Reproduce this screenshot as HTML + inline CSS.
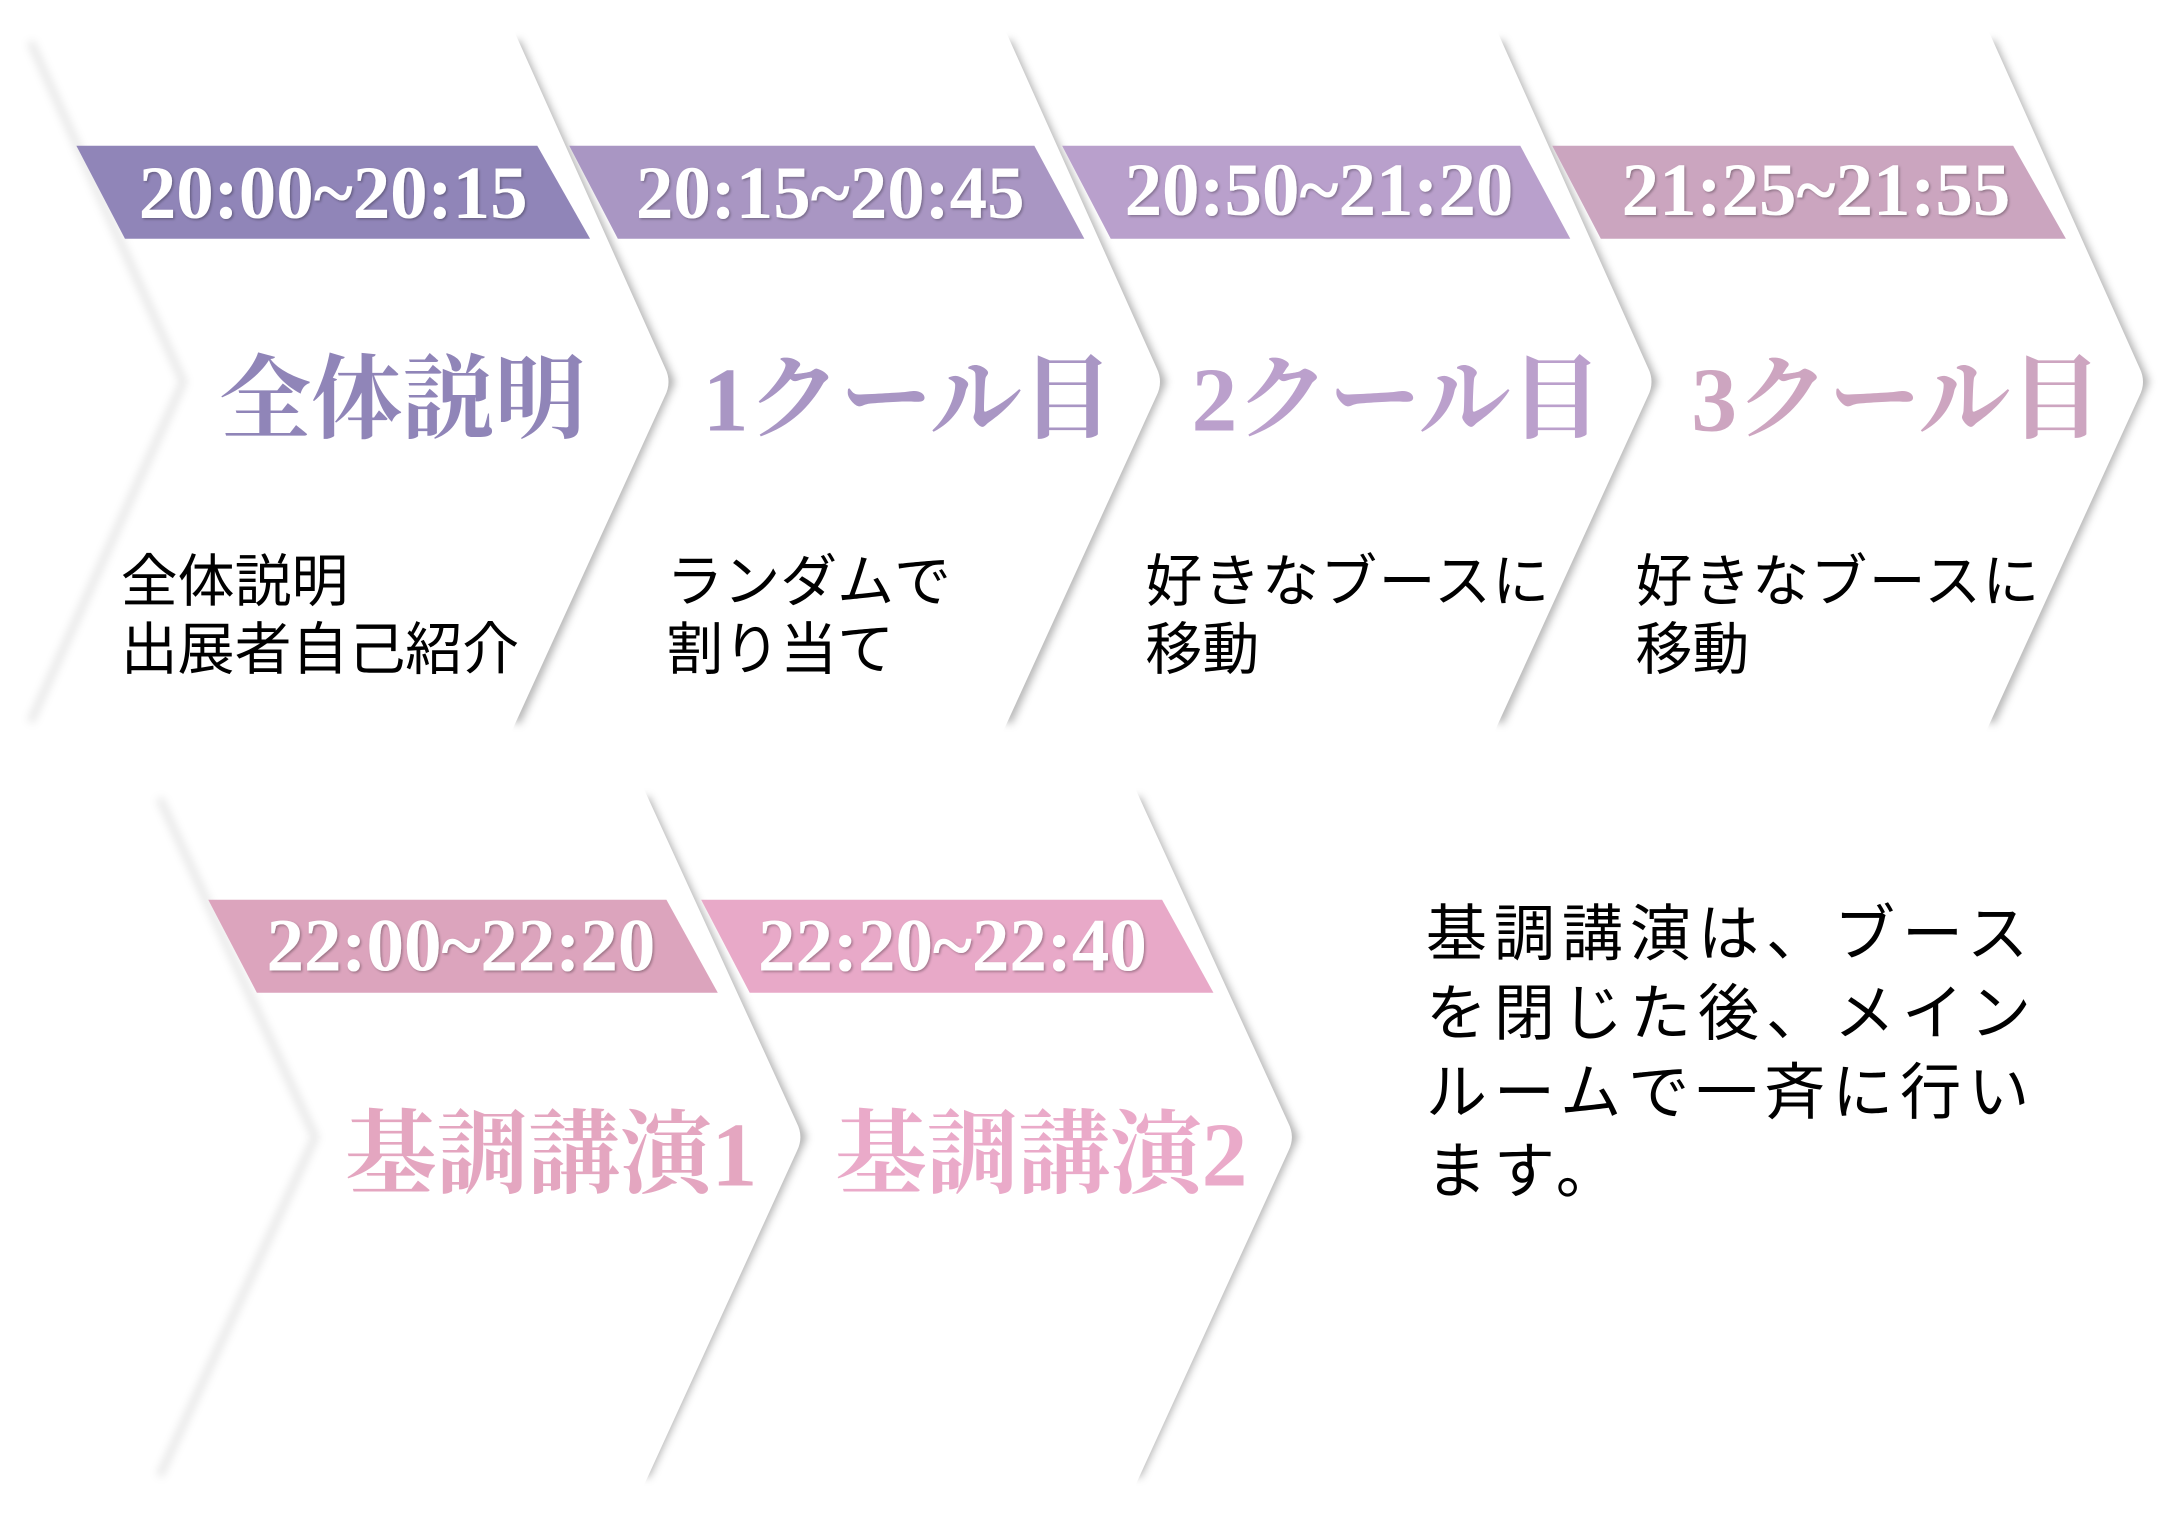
<!DOCTYPE html>
<html lang="ja"><head><meta charset="utf-8"><style>
html,body{margin:0;padding:0;background:#fff;}
svg{display:block;}
.t{font-family:"Liberation Serif","Noto Serif CJK JP",serif;font-weight:bold;}
.tm{font-family:"Liberation Serif","Noto Serif CJK JP",serif;fill:#fff;font-size:54px;font-weight:bold;text-anchor:middle;}
.b{font-family:"Liberation Sans","Noto Sans CJK JP",sans-serif;font-size:41px;fill:#000;}
.r{font-family:"Liberation Sans","Noto Sans CJK JP",sans-serif;font-size:44px;fill:#000;letter-spacing:5px;}
.s{fill:none;stroke:#000;stroke-opacity:0.33;stroke-width:7;filter:url(#bl);}
.s2{fill:none;stroke:#000;stroke-opacity:0.1;stroke-width:5;filter:url(#bl);}
</style></head><body>
<svg width="2177" height="1537" viewBox="0 0 1568 1107" preserveAspectRatio="none" xmlns="http://www.w3.org/2000/svg">
<defs>
<filter id="bl" x="-20%" y="-5%" width="140%" height="110%"><feGaussianBlur stdDeviation="3"/></filter>
<filter id="ts"><feDropShadow dx="1" dy="1" stdDeviation="1" flood-color="#000" flood-opacity="0.3"/></filter>
</defs>
<g fill="#fff">
<path class="s" d="M1433,30 L1544,275 L1433,520"/>
<path d="M1077,15 L1429,15 L1541,265 Q1546,275 1541,285 L1429,530 L1077,530 L1189,285 Q1194,275 1189,265 Z"/>
<path class="s" d="M1079,30 L1190,275 L1079,520"/>
<path d="M723,15 L1075,15 L1187,265 Q1192,275 1187,285 L1075,530 L723,530 L835,285 Q840,275 835,265 Z"/>
<path class="s" d="M725,30 L836,275 L725,520"/>
<path d="M369,15 L721,15 L833,265 Q838,275 833,285 L721,530 L369,530 L481,285 Q486,275 481,265 Z"/>
<path class="s" d="M371,30 L482,275 L371,520"/>
<path d="M15,15 L367,15 L479,265 Q484,275 479,285 L367,530 L15,530 L127,285 Q132,275 127,265 Z"/>
<path class="s2" d="M22,30 L132,275 L22,520"/>
<path class="s" d="M818,575 L931,819 L818,1063"/>
<path d="M462,560 L814,560 L928,809 Q933,819 928,829 L814,1078 L462,1078 L576,829 Q581,819 576,809 Z"/>
<path class="s" d="M464,575 L577,819 L464,1063"/>
<path d="M108,560 L460,560 L574,809 Q579,819 574,829 L460,1078 L108,1078 L222,829 Q227,819 222,809 Z"/>
<path class="s2" d="M115,575 L227,819 L115,1063"/>
</g>
<polygon points="55,105 387,105 425,172 90,172" fill="#9085b8"/>
<polygon points="410,105 745,105 781,172 445,172" fill="#a996c3"/>
<polygon points="765,105 1095,105 1131,172 800,172" fill="#b9a0cc"/>
<polygon points="1118,105 1450,105 1488,172 1153,172" fill="#cba5bf"/>
<polygon points="150,648 480,648 517,715 185,715" fill="#dca4bd"/>
<polygon points="505,648 837,648 874,715 540,715" fill="#e8a9c8"/>
<g filter="url(#ts)">
<text class="tm" x="240" y="157">20:00~20:15</text>
<text class="tm" x="598" y="157">20:15~20:45</text>
<text class="tm" x="950" y="155">20:50~21:20</text>
<text class="tm" x="1308" y="155">21:25~21:55</text>
<text class="tm" x="332" y="699">22:00~22:20</text>
<text class="tm" x="686" y="699">22:20~22:40</text>
</g>
<text class="t" x="290" y="310" font-size="66" text-anchor="middle" fill="#9085b8">全体説明</text>
<text class="t" x="654" y="310" font-size="66" text-anchor="middle" fill="#a996c4">1クール目</text>
<text class="t" x="1006" y="310" font-size="66" text-anchor="middle" fill="#bba0cc">2クール目</text>
<text class="t" x="1366" y="310" font-size="66" text-anchor="middle" fill="#cda5c0">3クール目</text>
<text class="t" x="397" y="854" font-size="66" text-anchor="middle" fill="#e4a6c0">基調講演1</text>
<text class="t" x="750" y="854" font-size="66" text-anchor="middle" fill="#eaaac9">基調講演2</text>
<text class="b" x="87" y="433">全体説明</text>
<text class="b" x="87" y="482">出展者自己紹介</text>
<text class="b" x="480" y="433">ランダムで</text>
<text class="b" x="480" y="482">割り当て</text>
<text class="b" x="825" y="433" letter-spacing="1">好きなブースに</text>
<text class="b" x="825" y="482">移動</text>
<text class="b" x="1178" y="433" letter-spacing="1">好きなブースに</text>
<text class="b" x="1178" y="482">移動</text>
<text class="r" x="1027" y="688">基調講演は、ブース</text>
<text class="r" x="1027" y="745">を閉じた後、メイン</text>
<text class="r" x="1027" y="802">ルームで一斉に行い</text>
<text class="r" x="1027" y="859">ます。</text>
</svg>
</body></html>
